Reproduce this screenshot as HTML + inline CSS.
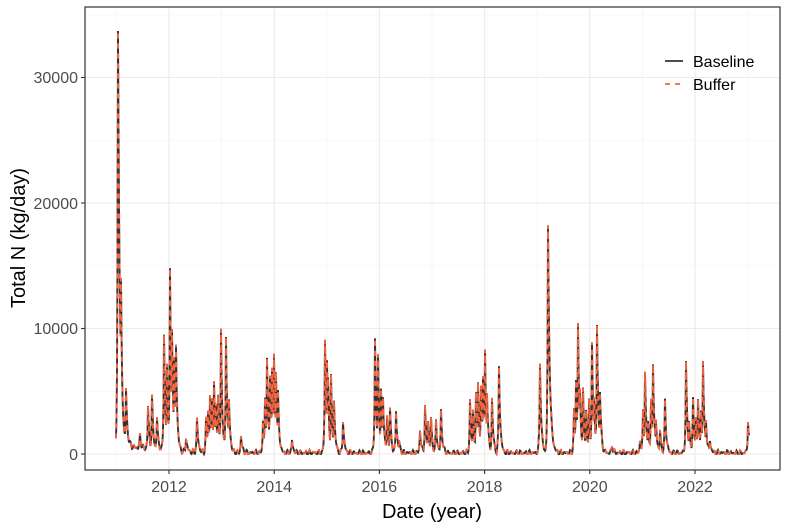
<!DOCTYPE html>
<html><head><meta charset="utf-8"><style>
html,body{margin:0;padding:0;background:#fff;}
svg{display:block;font-family:"Liberation Sans",Arial,sans-serif;}
</style></head><body>
<svg id="s" width="800" height="529" viewBox="0 0 800 529" xmlns="http://www.w3.org/2000/svg">
<rect width="800" height="529" fill="#fff"/>
<g stroke="#f2f2f2" stroke-width="0.6">
<line x1="85" x2="780" y1="391.5" y2="391.5"/><line x1="85" x2="780" y1="266" y2="266"/><line x1="85" x2="780" y1="140.5" y2="140.5"/><line x1="85" x2="780" y1="15" y2="15"/>
<line y1="7" y2="470" x1="116.4" x2="116.4"/><line y1="7" y2="470" x1="221.6" x2="221.6"/><line y1="7" y2="470" x1="326.8" x2="326.8"/><line y1="7" y2="470" x1="432" x2="432"/><line y1="7" y2="470" x1="537.2" x2="537.2"/><line y1="7" y2="470" x1="642.4" x2="642.4"/><line y1="7" y2="470" x1="747.6" x2="747.6"/>
</g>
<g stroke="#ebebeb" stroke-width="1.1">
<line x1="85" x2="780" y1="454" y2="454"/><line x1="85" x2="780" y1="328.5" y2="328.5"/><line x1="85" x2="780" y1="203" y2="203"/><line x1="85" x2="780" y1="77.5" y2="77.5"/>
<line y1="7" y2="470" x1="169" x2="169"/><line y1="7" y2="470" x1="274.2" x2="274.2"/><line y1="7" y2="470" x1="379.4" x2="379.4"/><line y1="7" y2="470" x1="484.6" x2="484.6"/><line y1="7" y2="470" x1="589.8" x2="589.8"/><line y1="7" y2="470" x1="695" x2="695"/>
</g>
<g id="data"></g>
<rect x="85" y="7" width="695" height="463" fill="none" stroke="#333" stroke-width="1.2"/>
<g stroke="#333" stroke-width="1.1">
<line x1="81" x2="85" y1="454" y2="454"/><line x1="81" x2="85" y1="328.5" y2="328.5"/><line x1="81" x2="85" y1="203" y2="203"/><line x1="81" x2="85" y1="77.5" y2="77.5"/>
<line y1="470" y2="474" x1="169" x2="169"/><line y1="470" y2="474" x1="274.2" x2="274.2"/><line y1="470" y2="474" x1="379.4" x2="379.4"/><line y1="470" y2="474" x1="484.6" x2="484.6"/><line y1="470" y2="474" x1="589.8" x2="589.8"/><line y1="470" y2="474" x1="695" x2="695"/>
</g>
<g fill="#4d4d4d" font-size="16" text-anchor="end">
<text x="78" y="460">0</text><text x="78" y="334">10000</text><text x="78" y="209">20000</text><text x="78" y="83">30000</text>
</g>
<g fill="#4d4d4d" font-size="16" text-anchor="middle">
<text x="169" y="492">2012</text><text x="274.2" y="492">2014</text><text x="379.4" y="492">2016</text><text x="484.6" y="492">2018</text><text x="589.8" y="492">2020</text><text x="695" y="492">2022</text>
</g>
<text x="432" y="518" font-size="20" text-anchor="middle" fill="#000">Date (year)</text>
<text transform="translate(25,238) rotate(-90)" font-size="20" text-anchor="middle" fill="#000">Total N (kg/day)</text>
<line x1="665" x2="683" y1="61" y2="61" stroke="#333" stroke-width="1.8"/>
<line x1="665" x2="683" y1="84" y2="84" stroke="#f8643f" stroke-width="1.8" stroke-dasharray="5,5"/>
<text x="693" y="67" font-size="16">Baseline</text>
<text x="693" y="90" font-size="16">Buffer</text>
</svg>
<script>
var P=[[118,30],[121,290],[126,396],[140,440],[148,410],[152,400],[157,420],[164,335],[167,365],[170,270],[172,330],[174,360],[176,345],[186,438],[197,420],[206,420],[208,410],[210,395],[212,400],[214,380],[216,405],[218,395],[221,330],[226,335],[229,400],[241,436],[263,420],[265,400],[267,355],[270,375],[272,368],[274,355],[276,370],[278,393],[292,440],[325,340],[327,360],[328,380],[331,375],[334,400],[343,420],[375,338],[378,355],[381,390],[383,395],[387,415],[390,408],[396,410],[399,440],[420,430],[425,405],[428,420],[431,418],[436,420],[441,410],[470,400],[473,410],[476,395],[478,380],[481,385],[483,375],[485,352],[487,390],[492,398],[499,366],[540,362],[548,228],[574,410],[576,380],[578,322],[580,390],[583,390],[586,410],[589,400],[592,345],[594,395],[597,325],[600,390],[612,445],[640,440],[643,410],[645,372],[648,420],[651,400],[653,362],[656,420],[660,430],[665,400],[686,363],[689,420],[693,397],[696,420],[698,397],[701,410],[703,360],[706,420],[710,440],[748,420]];
function v(x){var b=453-10*Math.exp(-(x-118)/30)*(x>117?1:0);var m=0;
for(var i=0;i<P.length;i++){var p=P[i],h=453-p[1];var dx=x-p[0];var w=dx<0?0.6:(h>200?1.8:1.3);var e=h*Math.exp(-Math.abs(dx)/w);if(e>m)m=e;}
var y=b-m-3*Math.sin(x*1.7)*Math.sin(x*0.3);return Math.min(454,Math.max(31,y));}
var d="";for(var x=116;x<=749;x+=0.5){d+=(x==116?"M":"L")+x+","+v(x).toFixed(1);}
var g=document.getElementById("data");
g.innerHTML='<path d="'+d+'" fill="none" stroke="#333" stroke-width="1.9"/><path d="'+d+'" fill="none" stroke="#f8643f" stroke-width="1.9" stroke-dasharray="5,5"/>';
</script>
</body></html>
